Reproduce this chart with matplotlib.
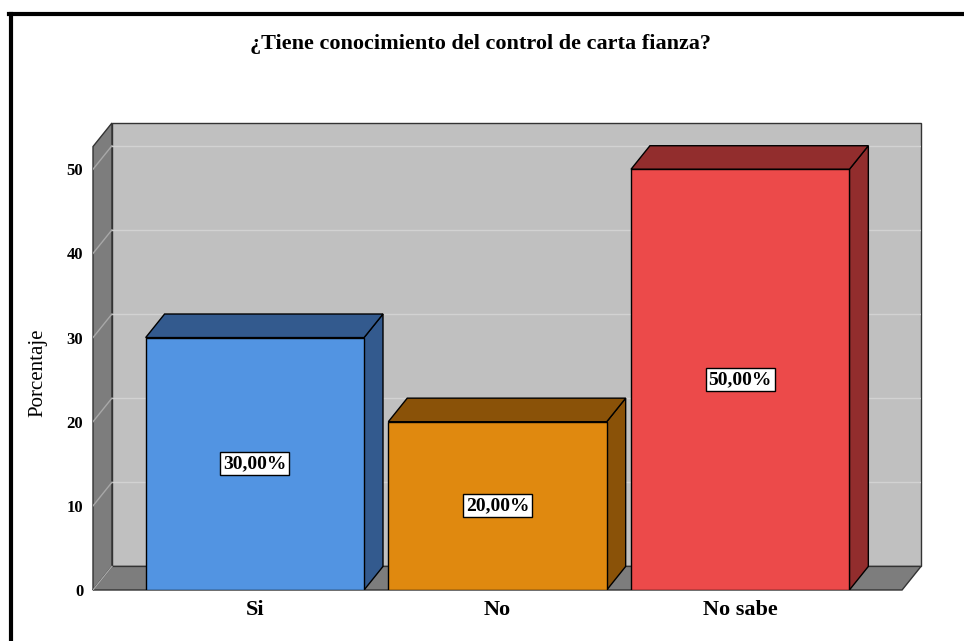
import matplotlib.pyplot as plt
from matplotlib.patches import Polygon
from matplotlib.lines import Line2D

categories = ['Si', 'No', 'No sabe']
porcentajes = [30.0, 20.0, 50.0]
etiquetas = ['30,00%', '20,00%', '50,00%']
y_ticks = [0, 10, 20, 30, 40, 50]

caras = ['#5294e2', '#e0890f', '#ec4a4a']
lados = ['#335a8e', '#8a5208', '#922d2d']

# pseudo 3D depth, in data units
DX = 0.078
DY = 2.8
X0, X1 = -0.667, 2.667
YMAX = 52.7
W = 0.9

fig = plt.figure(figsize=(9.64, 6.41), dpi=100)
ax = fig.add_axes([93 / 964, 51 / 641, 828 / 964, 467 / 641])
ax.set_xlim(X0, X1 + DX)
ax.set_ylim(0, YMAX + DY)
for s in ax.spines.values():
    s.set_visible(False)

serif = 'Liberation Serif'
edge = '#333333'

# walls and floor
ax.add_patch(Polygon([(X0 + DX, DY), (X1 + DX, DY), (X1 + DX, YMAX + DY), (X0 + DX, YMAX + DY)],
                     closed=True, facecolor='#c0c0c0', edgecolor=edge, lw=1, zorder=1, clip_on=False))
ax.add_patch(Polygon([(X0, 0), (X0 + DX, DY), (X0 + DX, YMAX + DY), (X0, YMAX)],
                     closed=True, facecolor='#7d7d7d', edgecolor=edge, lw=1, zorder=1, clip_on=False))
ax.add_patch(Polygon([(X0, 0), (X1, 0), (X1 + DX, DY), (X0 + DX, DY)],
                     closed=True, facecolor='#7d7d7d', edgecolor=edge, lw=1, zorder=1, clip_on=False))

# gridlines on back wall and left wall
for t in y_ticks:
    if t > 0:
        ax.plot([X0 + DX, X1 + DX], [t + DY, t + DY], color='#d2d2d2', lw=1, zorder=1.5)
    ax.plot([X0, X0 + DX], [t, t + DY], color='#a8a8a8', lw=1, zorder=1.5)

xs = list(range(len(categories)))
ax.bar(xs, porcentajes, width=W, color=caras, edgecolor='black', lw=1, zorder=3)
for x, v, c in zip(xs, porcentajes, lados):
    r = x + W / 2
    l = x - W / 2
    ax.add_patch(Polygon([(r, 0), (r + DX, DY), (r + DX, v + DY), (r, v)],
                         closed=True, facecolor=c, edgecolor='black', lw=1, zorder=2.5))
    ax.add_patch(Polygon([(l, v), (r, v), (r + DX, v + DY), (l + DX, v + DY)],
                         closed=True, facecolor=c, edgecolor='black', lw=1, zorder=2.5))

for x, v, lab in zip(xs, porcentajes, etiquetas):
    ax.text(x, v / 2, lab, ha='center', va='center', fontsize=14, fontweight='bold',
            family=serif, zorder=5,
            bbox=dict(boxstyle='square,pad=0.15', facecolor='white', edgecolor='black', lw=1))

ax.set_yticks(y_ticks)
ax.set_yticklabels([str(t) for t in y_ticks], family=serif, fontweight='bold', fontsize=12)
ax.set_xticks(xs)
ax.set_xticklabels(categories, family=serif, fontweight='bold', fontsize=16)
ax.tick_params(axis='y', length=0, pad=7)
ax.tick_params(axis='x', length=0, pad=7)

fig.text(481 / 964, 1 - 44 / 641, '¿Tiene conocimiento del control de carta fianza?',
         ha='center', va='center', family=serif, fontweight='bold', fontsize=16)
fig.text(38 / 964, 1 - 373 / 641, 'Porcentaje', rotation=90, ha='center', va='center',
         family=serif, fontsize=15)

# outer frame
fig.add_artist(Line2D([10.5 / 964, 10.5 / 964], [0, 1 - 13.5 / 641], color='black', lw=3,
                      transform=fig.transFigure))
fig.add_artist(Line2D([9 / 964, 1], [1 - 13.5 / 641, 1 - 13.5 / 641], color='black', lw=3,
                      transform=fig.transFigure))

fig.savefig('out.png', dpi=100)
